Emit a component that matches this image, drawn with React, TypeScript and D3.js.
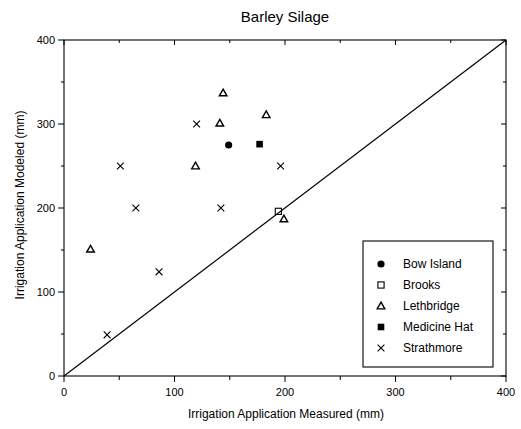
import React from 'react'
import * as d3 from 'd3'

// values (mm)
const bowIsland: [number, number][] = [[149, 275]]
const brooks: [number, number][] = [[194, 196]]
const lethbridge: [number, number][] = [
  [144, 337], [141, 301], [183, 311], [119, 250], [24, 151], [199, 187],
]
const medicineHat: [number, number][] = [[177, 276]]
const strathmore: [number, number][] = [
  [120, 300], [51, 250], [65, 200], [142, 200], [196, 250], [86, 124], [39, 49],
]
const majorTicks = [0, 100, 200, 300, 400]
const minorTicks = [50, 150, 250, 350]
const legendNames = ['Bow Island', 'Brooks', 'Lethbridge', 'Medicine Hat', 'Strathmore']

const W = 521
const H = 429
const FONT = '"Liberation Sans", Arial, sans-serif'

type Kind = 'circle' | 'square' | 'triangle' | 'fillsquare' | 'cross'

function Marker({ x, y, kind }: { x: number; y: number; kind: Kind }) {
  if (kind === 'circle') return <circle cx={x} cy={y} r={3.6} fill="#000" />
  if (kind === 'fillsquare') return <rect x={x - 3.3} y={y - 3.3} width={6.6} height={6.6} fill="#000" />
  if (kind === 'square')
    return <rect x={x - 3.1} y={y - 3.1} width={6.2} height={6.2} fill="none" stroke="#000" strokeWidth={1.1} />
  if (kind === 'triangle') {
    const p = d3.path()
    p.moveTo(x, y - 3.8)
    p.lineTo(x + 3.8, y + 2.9)
    p.lineTo(x - 3.8, y + 2.9)
    p.closePath()
    return <path d={p.toString()} fill="none" stroke="#000" strokeWidth={1.4} />
  }
  const s = 3.4
  return (
    <path
      d={`M${x - s},${y - s}L${x + s},${y + s}M${x - s},${y + s}L${x + s},${y - s}`}
      stroke="#000"
      strokeWidth={1.1}
    />
  )
}

export default function App() {
  const x = d3.scaleLinear().domain([0, 400]).range([64, 506])
  const y = d3.scaleLinear().domain([0, 400]).range([376, 40])

  const series: { data: [number, number][]; kind: Kind }[] = [
    { data: bowIsland, kind: 'circle' },
    { data: brooks, kind: 'square' },
    { data: lethbridge, kind: 'triangle' },
    { data: medicineHat, kind: 'fillsquare' },
    { data: strathmore, kind: 'cross' },
  ]

  const line = d3.line<number>().x(d => x(d)).y(d => y(d))

  return (
    <svg
      width={W}
      height={H}
      style={{ position: 'absolute', left: 0, top: 0, background: '#fff' }}
      fontFamily={FONT}
    >
      <rect width={W} height={H} fill="#fff" />
      <text x={285} y={22} textAnchor="middle" fontSize={15}>Barley Silage</text>

      {/* frame */}
      <rect x={x(0)} y={y(400)} width={x(400) - x(0)} height={y(0) - y(400)} fill="none" stroke="#000" strokeWidth={1.1} />

      {/* 1:1 line */}
      <path d={line([0, 400]) ?? ''} stroke="#000" strokeWidth={1.2} fill="none" />

      {/* ticks */}
      {majorTicks.map(t => (
        <g key={'M' + t}>
          <line x1={x(0)} x2={x(0) - 6} y1={y(t)} y2={y(t)} stroke="#000" />
          <line x1={x(400)} x2={x(400) - 5} y1={y(t)} y2={y(t)} stroke="#000" />
          <line x1={x(t)} x2={x(t)} y1={y(0)} y2={y(0) + 6} stroke="#000" />
          <line x1={x(t)} x2={x(t)} y1={y(400)} y2={y(400) + 5} stroke="#000" />
          <text x={x(0) - 9} y={y(t) + 4} textAnchor="end" fontSize={11}>{t}</text>
          <text x={x(t)} y={y(0) + 20} textAnchor="middle" fontSize={11}>{t}</text>
        </g>
      ))}
      {minorTicks.map(t => (
        <g key={'m' + t}>
          <line x1={x(0)} x2={x(0) - 3} y1={y(t)} y2={y(t)} stroke="#000" />
          <line x1={x(400)} x2={x(400) - 3} y1={y(t)} y2={y(t)} stroke="#000" />
          <line x1={x(t)} x2={x(t)} y1={y(0)} y2={y(0) + 4} stroke="#000" />
          <line x1={x(t)} x2={x(t)} y1={y(400)} y2={y(400) + 3} stroke="#000" />
        </g>
      ))}

      {/* axis titles */}
      <text x={286} y={418} textAnchor="middle" fontSize={12}>Irrigation Application Measured (mm)</text>
      <text
        transform={`translate(24,205) rotate(-90)`}
        textAnchor="middle"
        fontSize={12}
      >
        Irrigation Application Modeled (mm)
      </text>

      {/* points */}
      {series.map((s, i) =>
        s.data.map((d, j) => <Marker key={i + '-' + j} x={x(d[0])} y={y(d[1])} kind={s.kind} />)
      )}

      {/* legend */}
      <rect x={363} y={241} width={130} height={126} fill="#fff" stroke="#000" strokeWidth={1.1} />
      {legendNames.map((name, i) => {
        const ly = 264 + i * 21
        return (
          <g key={name}>
            <Marker x={381} y={ly} kind={series[i].kind} />
            <text x={403} y={ly + 4} fontSize={12}>{name}</text>
          </g>
        )
      })}
    </svg>
  )
}
